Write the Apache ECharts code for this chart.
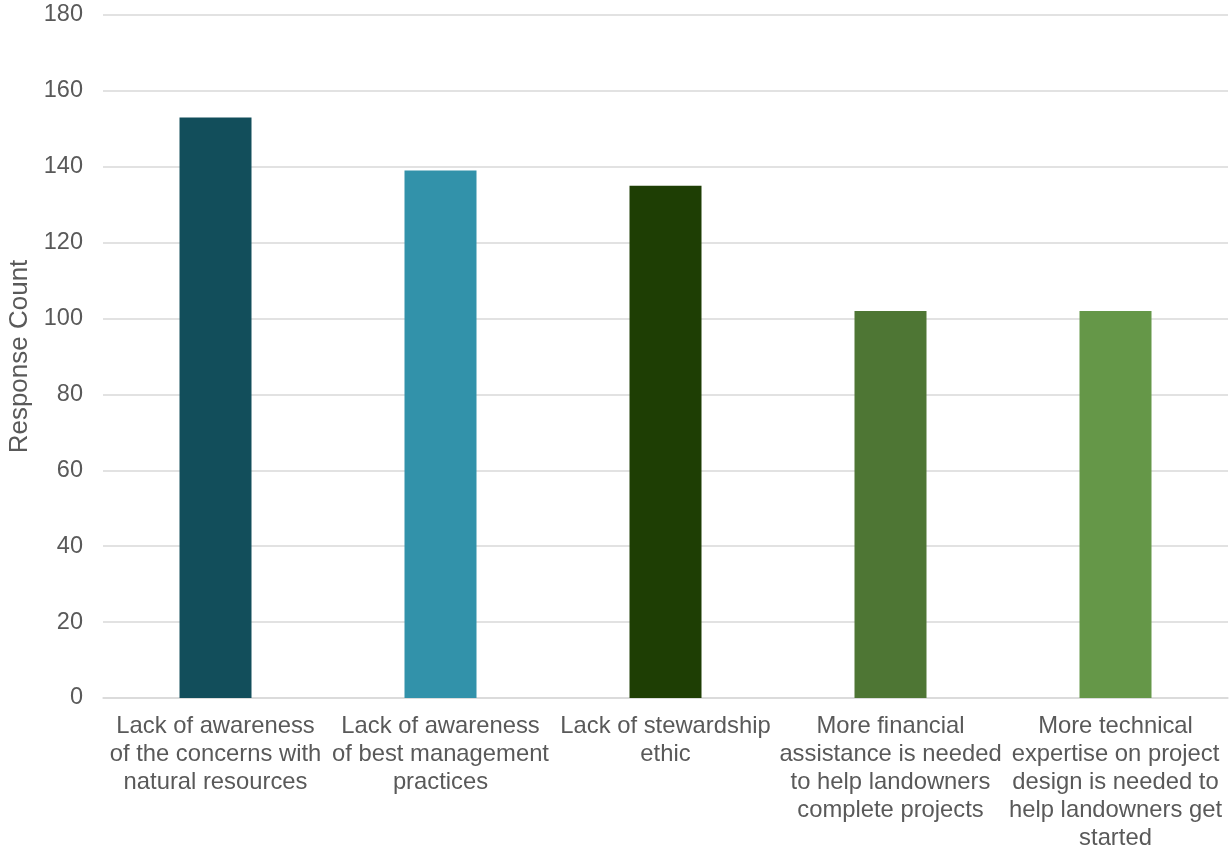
<!DOCTYPE html>
<html>
<head>
<meta charset="utf-8">
<script src="https://cdn.jsdelivr.net/npm/echarts@6/dist/echarts.min.js"></script>
<style>html,body{margin:0;padding:0;background:#fff;}#c{width:1232px;height:851px;}</style>
</head>
<body>
<div id="c"></div>
<script>
const categories = [
  "Lack of awareness\nof the concerns with\nnatural resources",
  "Lack of awareness\nof best management\npractices",
  "Lack of stewardship\nethic",
  "More financial\nassistance is needed\nto help landowners\ncomplete projects",
  "More technical\nexpertise on project\ndesign is needed to\nhelp landowners get\nstarted"
];
const values = [153, 139, 135, 102, 102];
const barColors = ["#124E5B", "#3292AA", "#1E3E04", "#4E7634", "#659748"];
const yTicks = { min: 0, max: 180, interval: 20 };
const yName = "Response Count";

const chart = echarts.init(document.getElementById('c'), null, { renderer: 'canvas' });
const font = "'Liberation Sans', Arial, sans-serif";
chart.setOption({
  animation: false,
  backgroundColor: '#ffffff',
  grid: { left: 103, right: 4, top: 15, bottom: 153, containLabel: false, outerBoundsMode: 'none' },
  xAxis: {
    type: 'category',
    data: categories,
    axisLine: { show: true, lineStyle: { color: '#d9d9d9', width: 1.5 } },
    axisTick: { show: false },
    axisLabel: { interval: 0, color: '#595959', fontSize: 23.8, fontFamily: font, lineHeight: 28, margin: 14 }
  },
  yAxis: {
    type: 'value',
    min: yTicks.min, max: yTicks.max, interval: yTicks.interval,
    name: yName,
    nameLocation: 'middle',
    nameGap: 68,
    nameRotate: 90,
    nameTextStyle: { color: '#595959', fontSize: 26, fontFamily: font },
    axisLine: { show: false },
    axisTick: { show: false },
    axisLabel: { color: '#595959', fontSize: 23.5, fontFamily: font, margin: 20 },
    splitLine: { lineStyle: { color: '#d9d9d9', width: 1.5 } }
  },
  series: [{
    type: 'bar',
    data: values.map((v, i) => ({ value: v, itemStyle: { color: barColors[i] } })),
    barWidth: 72
  }]
});
</script>
</body>
</html>
